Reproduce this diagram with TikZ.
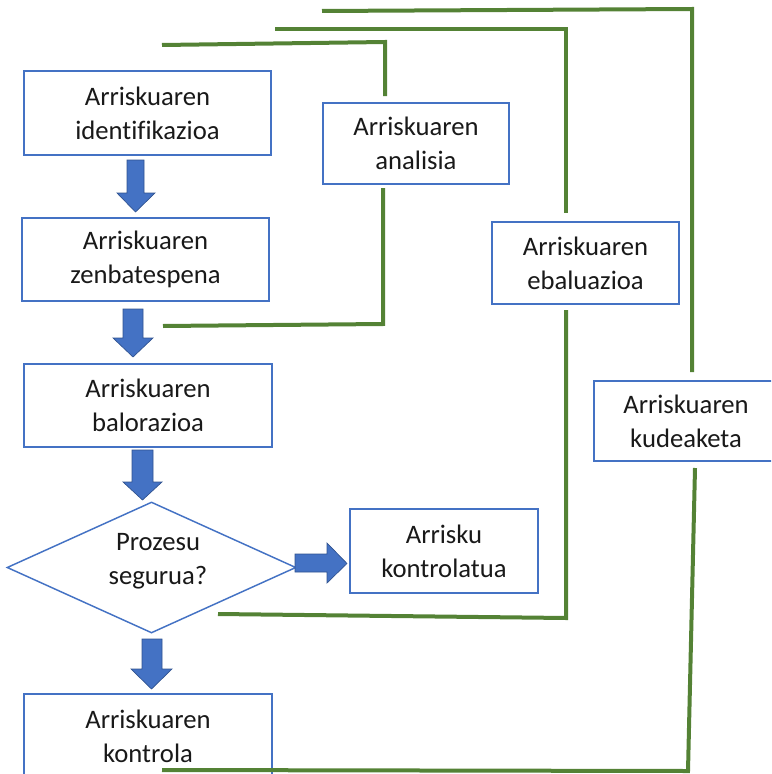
\documentclass[tikz,border=0pt]{standalone}
\usepackage{fontspec}
\setmainfont{Carlito}[Ligatures=NoCommon]
\usetikzlibrary{shapes.geometric}
\definecolor{boxblue}{HTML}{4472C4}
\definecolor{arrowedge}{HTML}{2F528F}
\definecolor{lgreen}{HTML}{548235}
\begin{document}
\begin{tikzpicture}[x=0.75pt,y=-0.75pt,
  box/.style={draw=boxblue, line width=1.4pt, fill=white, align=center, inner sep=0pt,
    font=\fontsize{20}{25.5}\selectfont, text=black!90},
  lbl/.style={align=center, inner sep=0pt, font=\fontsize{20}{25.5}\selectfont, text=black!90},
  bracket/.style={draw=lgreen, line width=3pt, line join=miter},
  blockarrow/.style={fill=boxblue, draw=arrowedge, line width=0.5pt, line join=miter}]
\useasboundingbox (0,0) rectangle (771,774);
\clip (0,0) rectangle (771,774);

% boxes
\node[box, minimum width=185.25pt, minimum height=63pt] (ident) at (147.5,113) {Arriskuaren\\identifikazioa};
\node[box, minimum width=185.25pt, minimum height=62.25pt] (zenb) at (145.5,259.5) {Arriskuaren\\zenbatespena};
\node[box, minimum width=186pt, minimum height=62.25pt] (balor) at (148,405.5) {Arriskuaren\\balorazioa};
\node[box, minimum width=186pt, minimum height=63pt] (kontrola) at (148,736) {Arriskuaren\\kontrola};
\node[box, minimum width=139.5pt, minimum height=60.75pt] (analisia) at (416,143.5) {Arriskuaren\\analisia};
\node[box, minimum width=140.25pt, minimum height=61.5pt] (ebal) at (585.5,263) {Arriskuaren\\ebaluazioa};
\node[box, minimum width=138pt, minimum height=60pt] (kudea) at (686,421) {Arriskuaren\\kudeaketa};
\node[box, minimum width=141pt, minimum height=63pt] (kontrolatua) at (444,551) {Arrisku\\kontrolatua};

% decision diamond
\node[diamond, draw=boxblue, line width=1.1pt, fill=white, inner sep=0pt,
      minimum width=216.75pt, minimum height=98.25pt] (dec) at (151.5,567.5) {};
\node[lbl] (dectext) at (158,561) {Prozesu\\segurua?};

% block arrows
\draw[blockarrow] (127,160) -- (144,160) -- (144,193) -- (155,193) -- (135.5,212) -- (117,193) -- (127,193) -- cycle;
\draw[blockarrow] (123,309) -- (143,309) -- (143,338) -- (153,338) -- (133,357) -- (113,338) -- (123,338) -- cycle;
\draw[blockarrow] (132,450) -- (153,450) -- (153,482) -- (162,482) -- (142.5,500) -- (123,482) -- (132,482) -- cycle;
\draw[blockarrow] (142,639) -- (162,639) -- (162,669) -- (172,669) -- (151.5,689) -- (131,669) -- (142,669) -- cycle;
\draw[blockarrow] (295,554) -- (327,554) -- (327,543) -- (347,563.5) -- (327,583) -- (327,572) -- (295,572) -- cycle;

% green bracket lines
\coordinate (c1s) at (162,45);
\coordinate (c1k) at (385,42);
\coordinate (c1e) at (385,96);
\coordinate (c2s) at (383,188);
\coordinate (c2k) at (383,324);
\coordinate (c2e) at (163,326);
\draw[bracket] (c1s) -- (c1k) -- (c1e);
\draw[bracket] (c2s) -- (c2k) -- (c2e);

\coordinate (b1s) at (275,29);
\coordinate (b1k) at (566,29);
\coordinate (b1e) at (566,213);
\coordinate (b2s) at (566,310);
\coordinate (b2k) at (566,618);
\coordinate (b2e) at (218,614);
\draw[bracket] (b1s) -- (b1k) -- (b1e);
\draw[bracket] (b2s) -- (b2k) -- (b2e);

\coordinate (a1s) at (322,11);
\coordinate (a1k) at (692,9);
\coordinate (a1e) at (692,372);
\coordinate (a2s) at (695,468);
\coordinate (a2k) at (688,771);
\coordinate (a2e) at (162,770);
\draw[bracket] (a1s) -- (a1k) -- (a1e);
\draw[bracket] (a2s) -- (a2k) -- (a2e);
\end{tikzpicture}
\end{document}
